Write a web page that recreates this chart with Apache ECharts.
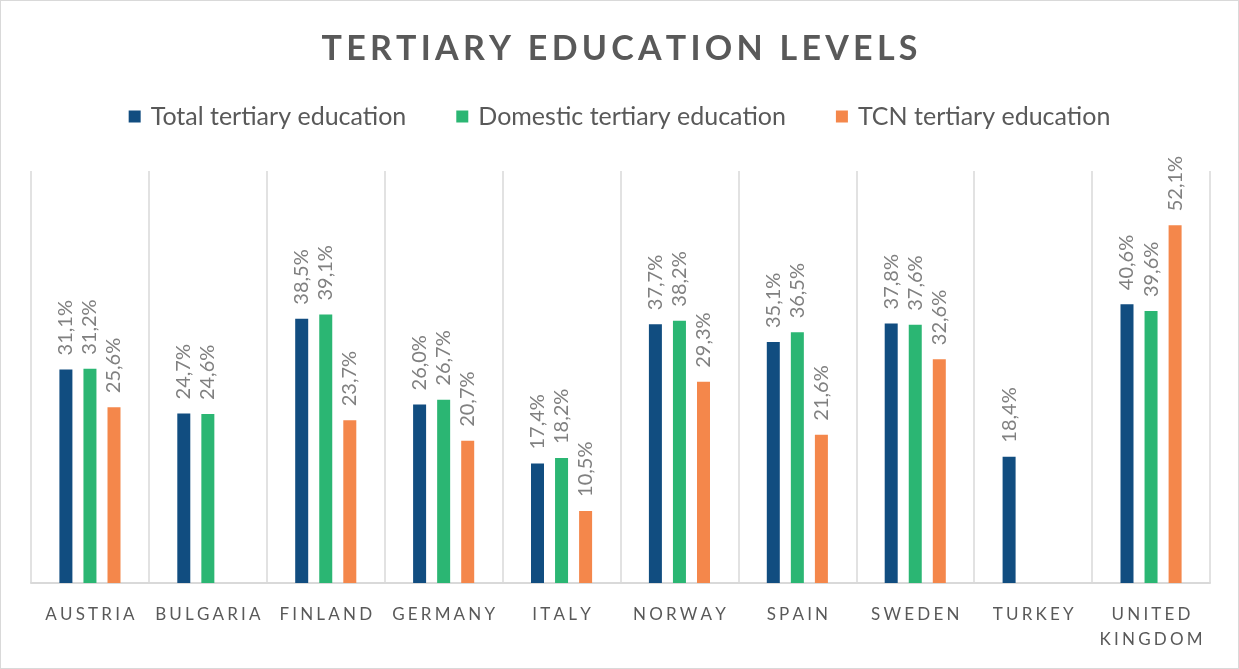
<!DOCTYPE html>
<html><head><meta charset="utf-8">
<script src="https://cdn.jsdelivr.net/npm/echarts@6/dist/echarts.min.js"></script>
<style>html,body{margin:0;padding:0;background:#fff}#c{width:1239px;height:669px;box-sizing:border-box;border:1px solid #d9d9d9}</style>
</head><body><div id="c"></div>
<script>
const categories = ['AUSTRIA','BULGARIA','FINLAND','GERMANY','ITALY','NORWAY','SPAIN','SWEDEN','TURKEY','UNITED KINGDOM'];
const seriesNames = ['Total tertiary education','Domestic tertiary education','TCN tertiary education'];
const totalValues = [31.1, 24.7, 38.5, 26.0, 17.4, 37.7, 35.1, 37.8, 18.4, 40.6];
const domesticValues = [31.2, 24.6, 39.1, 26.7, 18.2, 38.2, 36.5, 37.6, null, 39.6];
const tcnValues = [25.6, null, 23.7, 20.7, 10.5, 29.3, 21.6, 32.6, null, 52.1];
const colors = ['#114d80', '#2bb673', '#f4874b'];

const FONT = 'Lato';
const spaced = (s, sep) => s.split('').join(sep);
const chart = echarts.init(document.getElementById('c'), null, {renderer: 'canvas'});
const label = {
  show: true, position: 'top', rotate: 90, align: 'left', verticalAlign: 'middle', distance: 14,
  color: '#808080', fontFamily: FONT, fontSize: 20,
  formatter: p => p.value == null ? '' : p.value.toFixed(1).replace('.', ',') + '%'
};
const mk = (name, data, i) => ({
  name, type: 'bar', data, barWidth: 13, barGap: '85%',
  itemStyle: {color: colors[i]}, label
});
chart.setOption({
  animation: false,
  title: {
    text: spaced('TERTIARY EDUCATION LEVELS', '\u2009'), left: 'center', top: 26,
    textStyle: {fontFamily: FONT, fontWeight: 'bold', fontSize: 34, color: '#595959'}
  },
  legend: {
    top: 98, left: 'center', icon: 'rect', itemWidth: 12, itemHeight: 12, itemGap: 50,
    textStyle: {fontFamily: FONT, fontSize: 25, color: '#595959', padding: [0, 0, 0, 5]},
    data: seriesNames
  },
  grid: {left: 30, right: 28, top: 170, bottom: 85, containLabel: false},
  xAxis: {
    type: 'category', data: categories,
    axisLine: {lineStyle: {color: '#d9d9d9', width: 2}},
    axisTick: {show: false},
    splitLine: {show: true, lineStyle: {color: '#d9d9d9', width: 1.5}},
    axisLabel: {
      interval: 0, margin: 19, color: '#595959', fontFamily: FONT, fontSize: 17, lineHeight: 25,
      formatter: v => v.split(' ').map(w => spaced(w, '\u2009\u200A')).join('\n')
    }
  },
  yAxis: {type: 'value', min: 0, max: 60, show: false, splitLine: {show: false}},
  series: [mk(seriesNames[0], totalValues, 0), mk(seriesNames[1], domesticValues, 1), mk(seriesNames[2], tcnValues, 2)]
});
</script></body></html>
